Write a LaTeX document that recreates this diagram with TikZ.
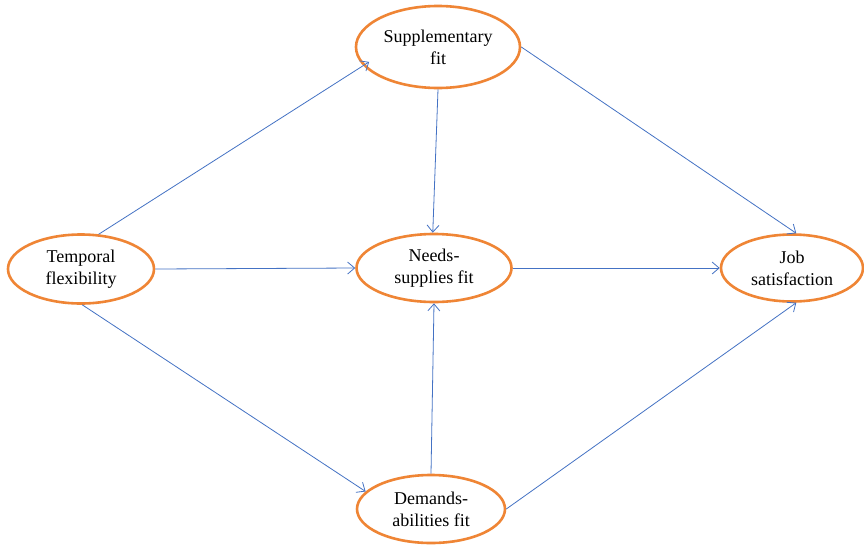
\documentclass[tikz,border=0pt]{standalone}
\usepackage{fontspec}
\setmainfont{Liberation Serif}
\usetikzlibrary{shapes.geometric,arrows.meta}
\definecolor{ellorange}{HTML}{EF8535}
\definecolor{arrblue}{HTML}{4472C4}
\begin{document}
\begin{tikzpicture}[x=1pt,y=-1pt,
  ell/.style={ellipse,draw=ellorange,line width=2.6pt,inner sep=0pt,align=center,
    font=\fontsize{18}{22}\selectfont},
  conn/.style={draw=arrblue,line width=0.8pt,-{Straight Barb[length=7pt,width=12pt]}}]
\useasboundingbox[fill=white] (0,0) rectangle (864,544);
\node[ell,minimum width=164pt,minimum height=82pt] (sf) at (438,47) {Supplementary\\fit};
\node[ell,minimum width=146pt,minimum height=69pt] (tf) at (81,269) {Temporal\\flexibility};
\node[ell,minimum width=155pt,minimum height=68pt] (ns) at (434,268) {Needs-\\supplies fit};
\node[ell,minimum width=142pt,minimum height=67pt] (js) at (792,268) {Job\\satisfaction};
\node[ell,minimum width=148pt,minimum height=68pt] (da) at (431,509) {Demands-\\abilities fit};
\draw[conn,shorten >=-7pt] (tf.63) -- (sf.194);
\draw[conn] (tf.east) -- (ns.west);
\draw[conn] (tf.272) -- (da.165);
\draw[conn] (sf.south) -- (ns.92);
\draw[conn] (da.north) -- (ns.south);
\draw[conn] (ns.east) -- (js.west);
\draw[conn] (sf.east) -- (js.83);
\draw[conn] (da.east) -- (js.277);
\end{tikzpicture}
\end{document}
